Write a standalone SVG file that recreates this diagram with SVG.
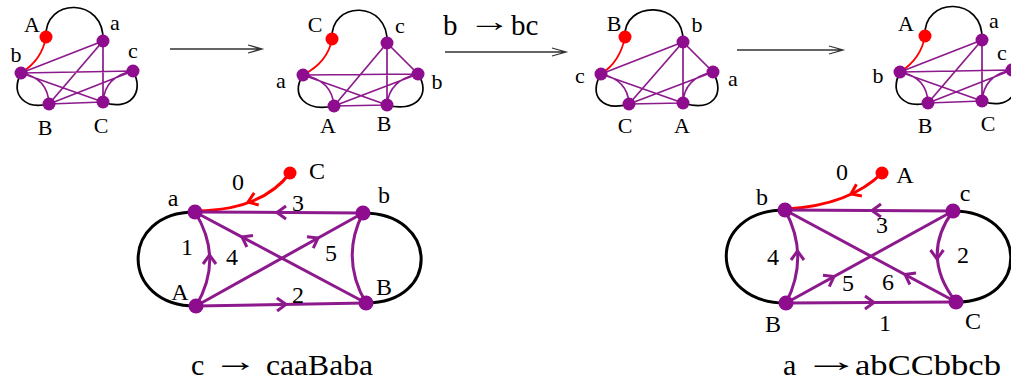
<svg xmlns="http://www.w3.org/2000/svg" width="1011" height="381" viewBox="0 0 1011 381">
<style>
.l{font-family:"Liberation Serif","Times New Roman",serif;font-size:22px;fill:#000;text-anchor:middle}
.L{font-family:"Liberation Serif","Times New Roman",serif;font-size:24px;fill:#000;text-anchor:middle}
.t{font-family:"Liberation Serif","Times New Roman",serif;fill:#000}
.e{fill:none;stroke:#8d1a8d;stroke-width:1.7}
.k{fill:none;stroke:#000;stroke-width:1.7}
.r{fill:none;stroke:#f00;stroke-width:1.7}
.n{fill:#8e0c8e}
.rn{fill:#f00}
.E{fill:none;stroke:#8d1a8d;stroke-width:3}
.K{fill:none;stroke:#000;stroke-width:3}
.R{fill:none;stroke:#f00;stroke-width:3}
.arr{fill:none;stroke:#333;stroke-width:1.3}
</style>
<defs>
<path id="chev" d="M-9,-6.5 L0,0 L-9,6.5"/>
</defs>

<!-- transition arrows -->
<g id="arrows">
<path class="arr" d="M170,49 H262 M248,45 L262,49 L248,53"/>
<path class="arr" d="M445,52 H566 M552,48 L566,52 L552,56"/>
<path class="arr" d="M737,50 H843 M829,46 L843,50 L829,54"/>
</g>
<text class="t" x="443" y="35" font-size="29">b</text>
<text class="t" x="468" y="31" font-size="29" textLength="43" lengthAdjust="spacingAndGlyphs">→</text>
<text class="t" x="511" y="35" font-size="29">bc</text>

<!-- Graph 1 -->
<g id="g1-edges">
<path class="k" d="M46,37 C44,-3 105,-3 103,41"/>
<path class="k" d="M21,73 C10,95 25,110 49,104"/>
<path class="k" d="M133,71 C145,92 130,112 103,102"/>
<path class="r" d="M46,37 Q42,60 21,73"/>
<path class="e" d="M21,73 L103,41 M21,73 L133,71 M21,73 L103,102 M103,41 L49,104 M103,41 L103,102 M49,104 L103,102 M49,104 L133,71 M21,73 Q48,78 49,104 M133,71 Q105,76 103,102"/>
</g>
<g id="g1-A"><circle class="rn" cx="46" cy="37" r="6.5"/><text class="l" x="32" y="32">A</text></g>
<g id="g1-a"><circle class="n" cx="103" cy="41" r="6.5"/><text class="l" x="115" y="30">a</text></g>
<g id="g1-b"><circle class="n" cx="21" cy="73" r="6.5"/><text class="l" x="16" y="62">b</text></g>
<g id="g1-c"><circle class="n" cx="133" cy="71" r="6.5"/><text class="l" x="133" y="58">c</text></g>
<g id="g1-B"><circle class="n" cx="49" cy="104" r="6.5"/><text class="l" x="45" y="135">B</text></g>
<g id="g1-C"><circle class="n" cx="103" cy="102" r="6.5"/><text class="l" x="101" y="133">C</text></g>

<!-- Graph 2 -->
<g id="g2-edges">
<path class="k" d="M332,39 C330,0 389,0 387,43"/>
<path class="k" d="M303,75 C290,95 305,112 334,106"/>
<path class="k" d="M418,74 C432,95 415,113 387,105"/>
<path class="r" d="M332,39 Q328,62 303,75"/>
<path class="e" d="M303,75 L418,74 M303,75 L387,105 M334,106 L418,74 M334,106 L387,43 M334,106 L387,105 M387,43 L387,105 M387,43 L418,74 M303,75 Q332,80 334,106 M418,74 Q389,80 387,105"/>
</g>
<g id="g2-C"><circle class="rn" cx="332" cy="39" r="6.5"/><text class="l" x="315" y="32">C</text></g>
<g id="g2-c"><circle class="n" cx="387" cy="43" r="6.5"/><text class="l" x="400" y="33">c</text></g>
<g id="g2-a"><circle class="n" cx="303" cy="75" r="6.5"/><text class="l" x="281" y="88">a</text></g>
<g id="g2-b"><circle class="n" cx="418" cy="74" r="6.5"/><text class="l" x="437" y="89">b</text></g>
<g id="g2-A"><circle class="n" cx="334" cy="106" r="6.5"/><text class="l" x="328" y="133">A</text></g>
<g id="g2-B"><circle class="n" cx="387" cy="105" r="6.5"/><text class="l" x="384" y="131">B</text></g>

<!-- Graph 3 -->
<g id="g3-edges">
<path class="k" d="M625,37 C623,0 685,0 683,42"/>
<path class="k" d="M601,74 C588,95 602,112 629,104"/>
<path class="k" d="M713,72 C726,95 712,112 683,103"/>
<path class="r" d="M625,37 Q620,62 601,74"/>
<path class="e" d="M601,74 L683,42 M601,74 L683,103 M629,104 L683,42 M629,104 L713,72 M629,104 L683,103 M683,42 L683,103 M683,42 L713,72 M601,74 Q628,80 629,104 M713,72 Q684,78 683,103"/>
</g>
<g id="g3-B"><circle class="rn" cx="625" cy="37" r="6.5"/><text class="l" x="614" y="31">B</text></g>
<g id="g3-b"><circle class="n" cx="683" cy="42" r="6.5"/><text class="l" x="697" y="32">b</text></g>
<g id="g3-c"><circle class="n" cx="601" cy="74" r="6.5"/><text class="l" x="580" y="83">c</text></g>
<g id="g3-a"><circle class="n" cx="713" cy="72" r="6.5"/><text class="l" x="733" y="86">a</text></g>
<g id="g3-C"><circle class="n" cx="629" cy="104" r="6.5"/><text class="l" x="625" y="133">C</text></g>
<g id="g3-A"><circle class="n" cx="683" cy="103" r="6.5"/><text class="l" x="682" y="133">A</text></g>

<!-- Graph 4 -->
<g id="g4-edges" transform="translate(879,-1)">
<path class="k" d="M46,37 C44,-3 105,-3 103,41"/>
<path class="k" d="M21,73 C10,95 25,110 49,104"/>
<path class="k" d="M133,71 C145,92 130,112 103,102"/>
<path class="r" d="M46,37 Q42,60 21,73"/>
<path class="e" d="M21,73 L103,41 M21,73 L133,71 M21,73 L103,102 M103,41 L49,104 M103,41 L103,102 M49,104 L103,102 M49,104 L133,71 M21,73 Q48,78 49,104 M133,71 Q105,76 103,102"/>
</g>
<g id="g4-A"><circle class="rn" cx="925" cy="36" r="6.5"/><text class="l" x="906" y="31">A</text></g>
<g id="g4-a"><circle class="n" cx="982" cy="40" r="6.5"/><text class="l" x="994" y="28">a</text></g>
<g id="g4-b"><circle class="n" cx="900" cy="72" r="6.5"/><text class="l" x="878" y="83">b</text></g>
<g id="g4-c"><circle class="n" cx="1012" cy="70" r="6.5"/><text class="l" x="1002" y="60">c</text></g>
<g id="g4-B"><circle class="n" cx="928" cy="103" r="6.5"/><text class="l" x="925" y="133">B</text></g>
<g id="g4-C"><circle class="n" cx="982" cy="101" r="6.5"/><text class="l" x="988" y="131">C</text></g>

<!-- Bottom left graph -->
<g id="bl-edges">
<path class="K" d="M195,212 C119,212 119,306 196,306"/>
<path class="K" d="M363,213 C439,213 441,303 366,303"/>
<path class="R" d="M290,173 Q262,210 197,211"/>
<use href="#chev" class="R" transform="translate(248,202) rotate(160)"/>
<path class="E" d="M363,213 L195,212"/>
<use href="#chev" class="E" transform="translate(277,212.5) rotate(180)"/>
<path class="E" d="M196,306 L366,303"/>
<use href="#chev" class="E" transform="translate(286,304.4) rotate(-1)"/>
<path class="E" d="M366,303 L195,212"/>
<use href="#chev" class="E" transform="translate(242,237) rotate(208)"/>
<path class="E" d="M196,306 L363,213"/>
<use href="#chev" class="E" transform="translate(318,238) rotate(-29)"/>
<path class="E" d="M196,306 Q224,259 195,212"/>
<use href="#chev" class="E" transform="translate(209.5,255) rotate(-90)"/>
<path class="E" d="M363,213 Q340,258 366,303"/>
</g>
<g id="bl-C"><circle class="rn" cx="290" cy="173" r="6.5"/><text class="L" x="317" y="179">C</text></g>
<g id="bl-a"><circle class="n" cx="195" cy="212" r="7.5"/><text class="L" x="173" y="206">a</text></g>
<g id="bl-b"><circle class="n" cx="363" cy="213" r="7.5"/><text class="L" x="384" y="203">b</text></g>
<g id="bl-A"><circle class="n" cx="196" cy="306" r="7.5"/><text class="L" x="180" y="300">A</text></g>
<g id="bl-B"><circle class="n" cx="366" cy="303" r="7.5"/><text class="L" x="384" y="295">B</text></g>
<g id="bl-nums">
<text class="L" x="238" y="190">0</text>
<text class="L" x="298" y="211">3</text>
<text class="L" x="187" y="255">1</text>
<text class="L" x="232" y="265">4</text>
<text class="L" x="331" y="261">5</text>
<text class="L" x="298" y="303">2</text>
</g>

<!-- Bottom right graph -->
<g id="br-edges">
<path class="K" d="M785,210 C706,210 707,303 786,303"/>
<path class="K" d="M953,211 C1028,211 1031,302 956,302"/>
<path class="R" d="M882,173 Q850,205 787,209"/>
<use href="#chev" class="R" transform="translate(851,194) rotate(155)"/>
<path class="E" d="M953,211 L785,210"/>
<use href="#chev" class="E" transform="translate(872,210.5) rotate(180)"/>
<path class="E" d="M786,303 L956,302"/>
<use href="#chev" class="E" transform="translate(874,302.5) rotate(0)"/>
<path class="E" d="M786,303 Q810,256 785,210"/>
<use href="#chev" class="E" transform="translate(797.5,251) rotate(-90)"/>
<path class="E" d="M953,211 Q920,256 956,302"/>
<use href="#chev" class="E" transform="translate(937,259) rotate(90)"/>
<path class="E" d="M786,303 L953,211"/>
<use href="#chev" class="E" transform="translate(834,276.5) rotate(-29)"/>
<path class="E" d="M956,302 L785,210"/>
<use href="#chev" class="E" transform="translate(905,274.5) rotate(208)"/>
</g>
<g id="br-A"><circle class="rn" cx="882" cy="173" r="6.5"/><text class="L" x="905" y="183">A</text></g>
<g id="br-b"><circle class="n" cx="785" cy="210" r="7.5"/><text class="L" x="762" y="205">b</text></g>
<g id="br-c"><circle class="n" cx="953" cy="211" r="7.5"/><text class="L" x="965" y="201">c</text></g>
<g id="br-B"><circle class="n" cx="786" cy="303" r="7.5"/><text class="L" x="773" y="332">B</text></g>
<g id="br-C"><circle class="n" cx="956" cy="302" r="7.5"/><text class="L" x="973" y="329">C</text></g>
<g id="br-nums">
<text class="L" x="842" y="180">0</text>
<text class="L" x="882" y="233">3</text>
<text class="L" x="773" y="265">4</text>
<text class="L" x="963" y="263">2</text>
<text class="L" x="848" y="291">5</text>
<text class="L" x="888" y="290">6</text>
<text class="L" x="885" y="331">1</text>
</g>

<!-- bottom rules -->
<text class="t" x="191" y="375" font-size="30">c</text>
<text class="t" x="213" y="371" font-size="30" textLength="45" lengthAdjust="spacingAndGlyphs">→</text>
<text class="t" x="266" y="375" font-size="30" textLength="107" lengthAdjust="spacingAndGlyphs">caaBaba</text>
<text class="t" x="783" y="375" font-size="30">a</text>
<text class="t" x="803" y="371" font-size="30" textLength="57" lengthAdjust="spacingAndGlyphs">→</text>
<text class="t" x="855" y="375" font-size="30" textLength="146" lengthAdjust="spacingAndGlyphs">abCCbbcb</text>
</svg>
